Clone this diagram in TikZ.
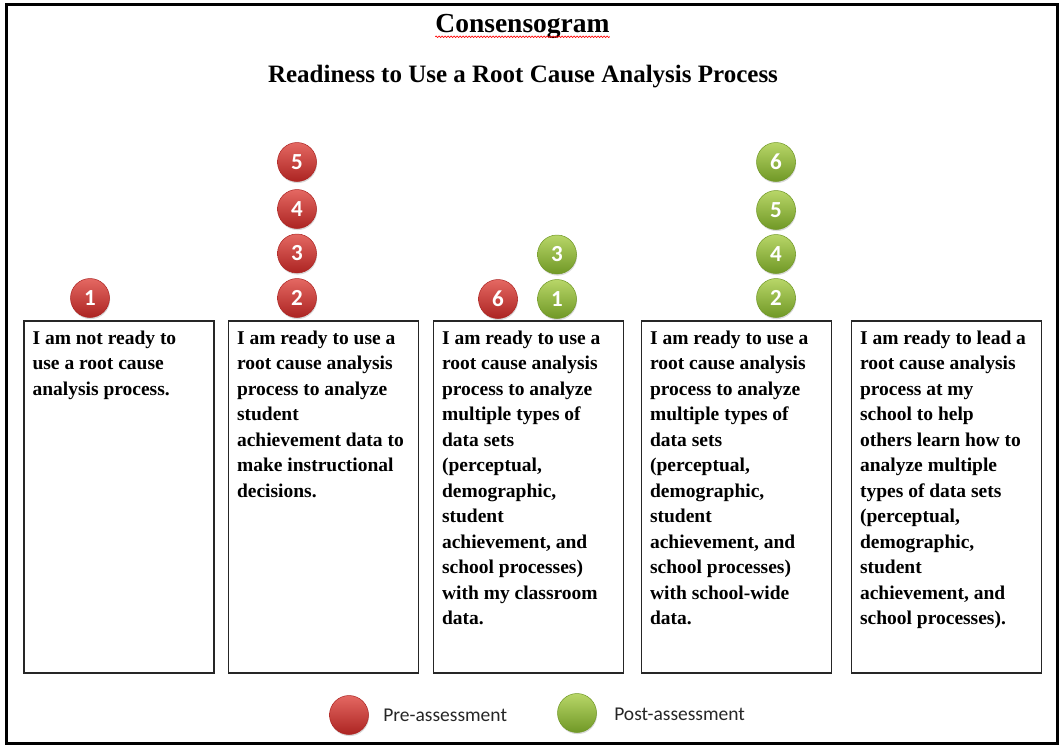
\documentclass[tikz,border=0pt]{standalone}
\usepackage{fontspec}
\setmainfont{Liberation Serif}
\newfontfamily\keyfont{Carlito}
\usetikzlibrary{positioning, shadows, decorations.pathmorphing}

\definecolor{prelight}{RGB}{228,104,98}
\definecolor{predark}{RGB}{172,36,34}
\definecolor{postlight}{RGB}{184,214,104}
\definecolor{postdark}{RGB}{112,152,38}

\begin{document}
\begin{tikzpicture}[%
    x=1pt, y=-1pt,
    node distance=12pt,
    % Boxes and their text
    card/.style={draw=black!85, line width=1.3pt, minimum width=190pt, minimum height=352pt, inner sep=0pt},
    cardtext/.style={anchor=north west, align=left, inner xsep=9pt, inner ysep=10pt, font=\fontsize{19.5}{25.5}\selectfont\bfseries},
    % Numbered balls
    chip/.style={circle, minimum size=39pt, inner sep=0pt, line width=0.5pt, text=white, font=\keyfont\fontsize{23}{23}\selectfont\bfseries, drop shadow={shadow xshift=0.6pt, shadow yshift=-1.6pt, opacity=0.3}},
    pre/.style={chip, draw=predark, top color=prelight, bottom color=predark},
    post/.style={chip, draw=postdark, top color=postlight, bottom color=postdark},
    keytext/.style={font=\keyfont\fontsize{19.5}{22}\selectfont, text=black!85}
]

\useasboundingbox (0,0) rectangle (1062,750);

% --- Heading ---
\node[font=\fontsize{27.5}{30}\selectfont\bfseries, anchor=base, inner sep=0pt] (title) at (522.5,32) {Consensogram};
\draw[red, line width=0.6pt, decorate, decoration={snake, amplitude=0.8pt, segment length=3pt}]
    ([yshift=1.5pt]title.south west) -- ([yshift=1.5pt]title.south east);
\node[font=\fontsize{25}{28}\selectfont\bfseries, anchor=base] (subtitle) at (523,82) {Readiness to Use a Root Cause Analysis Process};

% --- Readiness levels ---
\node[card] (card1) at (119,497) {};
\node[card] (card2) at (323.5,497) {};
\node[card] (card3) at (528.5,497) {};
\node[card] (card4) at (736.5,497) {};
\node[card] (card5) at (946.5,497) {};

\node[cardtext] (text1) at (card1.north west) {I am not ready to\\use a root cause\\analysis process.};
\node[cardtext] (text2) at (card2.north west) {I am ready to use a\\root cause analysis\\process to analyze\\student\\achievement data to\\make instructional\\decisions.};
\node[cardtext] (text3) at (card3.north west) {I am ready to use a\\root cause analysis\\process to analyze\\multiple types of\\data sets\\(perceptual,\\demographic,\\student\\achievement, and\\school processes)\\with my classroom\\data.};
\node[cardtext] (text4) at (card4.north west) {I am ready to use a\\root cause analysis\\process to analyze\\multiple types of\\data sets\\(perceptual,\\demographic,\\student\\achievement, and\\school processes)\\with school-wide\\data.};
\node[cardtext] (text5) at (card5.north west) {I am ready to lead a\\root cause analysis\\process at my\\school to help\\others learn how to\\analyze multiple\\types of data sets\\(perceptual,\\demographic,\\student\\achievement, and\\school processes).};

% --- Pre-assessment votes ---
\node[pre] (pre1) at (90,298) {1};
\node[pre] (pre2) at (297,298) {2};
\node[pre] (pre3) at (297,253.5) {3};
\node[pre] (pre4) at (297,209) {4};
\node[pre] (pre5) at (297,162) {5};
\node[pre] (pre6) at (498,299) {6};

% --- Post-assessment votes ---
\node[post] (post1) at (557,299) {1};
\node[post] (post3) at (557,254.5) {3};
\node[post] (post2) at (776,298) {2};
\node[post] (post4) at (776,254) {4};
\node[post] (post5) at (776,210) {5};
\node[post] (post6) at (776,162) {6};

% --- Key ---
\node[pre] (prekey) at (349,715) {};
\node[keytext, right=11pt of prekey] (prelabel) {Pre-assessment};
\node[post] (postkey) at (577,713) {};
\node[keytext, right=14pt of postkey, yshift=-1pt] (postlabel) {Post-assessment};

% Outer frame
\draw[line width=3pt] (6,4.5) rectangle (1057.5,743.5);

\end{tikzpicture}
\end{document}
